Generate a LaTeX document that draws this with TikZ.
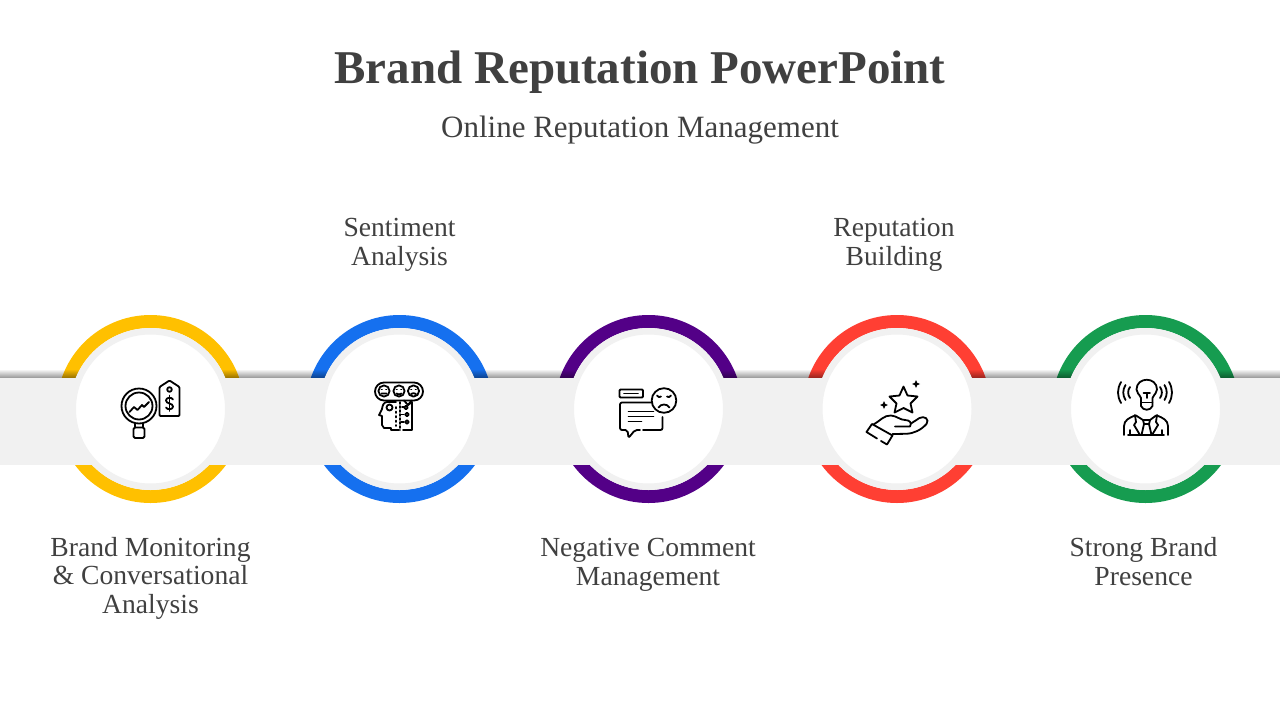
\documentclass[tikz,border=0pt]{standalone}
\usepackage{fontspec}
\setmainfont{Liberation Serif}
\usetikzlibrary{fadings}
\definecolor{txtgray}{HTML}{404040}
\definecolor{bandgray}{HTML}{F1F1F1}
\definecolor{brandyellow}{HTML}{FFC000}
\definecolor{brandblue}{HTML}{1570EF}
\definecolor{brandpurple}{HTML}{530087}
\definecolor{brandred}{HTML}{FF3F33}
\definecolor{brandgreen}{HTML}{169C50}
\tikzset{
  ring/.style={circle, draw=#1, line width=13pt, minimum size=175pt, inner sep=0pt, outer sep=0pt},
  disc/.style={circle, fill=white, draw=bandgray, line width=6.5pt, minimum size=155.5pt, inner sep=0pt, outer sep=0pt},
  label/.style={text=txtgray, align=center, anchor=base, font=\fontsize{27.6}{28.5}\selectfont},
  icon/.style={draw=black, line width=1.8pt, line cap=round, line join=round}
}
\begin{document}
\begin{tikzpicture}[x=1pt,y=-1pt]
\useasboundingbox (0,0) rectangle (1280,720);

\node[text=txtgray, anchor=base, font=\fontsize{47}{50}\bfseries\selectfont] (title) at (640,83) {Brand Reputation PowerPoint};
\node[label, font=\fontsize{31}{32}\selectfont] (subtitle) at (640,137) {Online Reputation Management};

\node[ring=brandyellow] (ringa) at (150.5,409) {};
\node[ring=brandblue] (ringb) at (399.5,409) {};
\node[ring=brandpurple] (ringc) at (648.5,409) {};
\node[ring=brandred] (ringd) at (897,409) {};
\node[ring=brandgreen] (ringe) at (1145.5,409) {};

\node[fill=bandgray, minimum width=1280pt, minimum height=87pt, inner sep=0pt, outer sep=0pt] (band) at (640,421.5) {};
\fill[black, opacity=.42, path fading=north] (-10,369) rectangle (1290,378);

\node[disc] (disca) at (150.5,409) {};
\node[disc] (discb) at (399.5,409) {};
\node[disc] (discc) at (648.5,409) {};
\node[disc] (discd) at (897,409) {};
\node[disc] (disce) at (1145.5,409) {};

\node[label] (laba) at (150.5,613) {Brand Monitoring\\\& Conversational\\Analysis};
\node[label] (labb) at (399.5,265) {Sentiment\\Analysis};
\node[label] (labc) at (648,585) {Negative Comment\\Management};
\node[label] (labd) at (894,265) {Reputation\\Building};
\node[label] (labe) at (1143.5,585) {Strong Brand\\Presence};

\begin{scope}[icon]
\draw (139,406) circle (17.5);
\draw (139,406) circle (13.5);
\draw (129.5,412) -- (134,407) -- (137.5,410) -- (142,405) -- (144,407) -- (149,402);
\draw (135,423.5) -- (135,427.5) (143,423.5) -- (143,427.5);
\draw[rounded corners=1.5pt] (133.5,427.5) rectangle (144.5,438);
\draw[rounded corners=1pt] (159.5,387) -- (169.5,380.5) -- (179.5,387) -- (179.5,416) -- (159.5,416) -- cycle;
\draw (169.5,389.5) circle (2.3);
\draw (173,399.5) .. controls (172,397) and (166,397) .. (166,400.5) .. controls (166,404) and (173,403) .. (173,406.5) .. controls (173,410) and (167,410) .. (166,407.5);
\draw (169.5,395.5) -- (169.5,411);

\draw[rounded corners=9pt] (375,382.5) rectangle (423,400.5);
\draw (384,391) circle (5.6) (399,391) circle (5.6) (413.5,391) circle (5.6);
\draw (381.5,389.5) -- (382,389.5) (386,389.5) -- (386.5,389.5) (396.5,389.5) -- (397,389.5) (401,389.5) -- (401.5,389.5) (411,389.5) -- (411.5,389.5) (415.5,389.5) -- (416,389.5);
\draw (381.5,393.5) -- (386.5,393.5) (396.5,393.5) .. controls (398,394.8) and (400,394.8) .. (401.5,393.5) (411,394) .. controls (412.5,392.8) and (414.5,392.8) .. (416,394);
\draw (404,400.5) -- (408,405) -- (411.5,400.5);
\draw (396,402) -- (387,402) .. controls (384,402) and (382.5,405) .. (382,409) -- (379,415) -- (382,416) -- (382,425) -- (384,428) -- (391,428) -- (391,430) -- (399,430);
\draw[dash pattern=on 1.5pt off 3pt] (396,407) -- (396,426);
\draw[dash pattern=on 2pt off 2pt] (400,402) -- (400,430);
\draw (408,405) -- (412,402) -- (412,430) -- (403,430);
\draw (389.5,407.5) circle (3);
\draw (402,407) -- (404.5,407) (401,414.5) -- (404,414.5) (401,422) -- (404,422);
\draw (406,407.5) circle (1.8) (407,414.5) circle (1.8) (407,422) circle (1.8);

\draw[rounded corners=1pt] (619.5,389.5) rectangle (643,397.5);
\draw (624,393.5) -- (638,393.5);
\draw (664,400.5) circle (12.3);
\draw (657,395.5) .. controls (658,397.5) and (660,397.5) .. (661,396.5) (671,395.5) .. controls (670,397.5) and (668,397.5) .. (667,396.5);
\draw (658.5,407.5) .. controls (661,403.5) and (667,403.5) .. (669.5,407.5);
\draw[rounded corners=2pt] (651.5,402.5) -- (620,402.5) -- (620,430) -- (627.5,430) -- (628.5,438) -- (635,430) -- (640,430);
\draw[rounded corners=2pt] (643,430) -- (662.5,430) -- (662.5,417);
\draw (628.5,411.5) -- (653.5,411.5) (628.5,416.5) -- (653.5,416.5) (628.5,421.5) -- (641.5,421.5);

\draw (903.5,386.5) -- (907.5,395.5) -- (917.5,396.5) -- (910.5,403.5) -- (912.5,412.5) -- (903.5,408) -- (894.5,412.5) -- (896.5,403.5) -- (889.5,396.5) -- (899.5,395.5) -- cycle;
\fill (916,380) -- (917.2,382.8) -- (920,384) -- (917.2,385.2) -- (916,388) -- (914.8,385.2) -- (912,384) -- (914.8,382.8) -- cycle;
\fill (884,401) -- (885.2,403.8) -- (888,405) -- (885.2,406.2) -- (884,409) -- (882.8,406.2) -- (880,405) -- (882.8,403.8) -- cycle;
\draw (872,424) -- (866.5,432) -- (877,438.5) (881,441) -- (887,444.5) -- (892.5,435.5) -- (872,424);
\draw (873.5,424.5) .. controls (880,421) and (884,415) .. (891,415.5) .. controls (897,416) and (900,420) .. (905,420) .. controls (910,420) and (912,423) .. (910,426.5) -- (895,426.5);
\draw (911,423.5) -- (919.5,418) .. controls (924,415.5) and (930,419) .. (926.5,424) .. controls (921,430) and (914,433.5) .. (906,433.8) -- (892.5,434);

\draw (1141,398) .. controls (1139,393.5) and (1136.5,393) .. (1136.5,389.5) .. controls (1136.5,376.5) and (1157,376.5) .. (1157,389.5) .. controls (1157,393) and (1154.5,393.5) .. (1152.5,398) -- (1152.5,406) .. controls (1150.5,411) and (1143,411) .. (1141,406) -- cycle;
\draw (1141,402.5) -- (1152.5,402.5) (1146.7,393) -- (1146.7,398) (1143.5,393) -- (1150,393);
\draw (1130,387) .. controls (1127.5,390.5) and (1127.5,394.5) .. (1130,398);
\draw (1125.5,385) .. controls (1122.5,390) and (1122.5,395) .. (1125.5,400);
\draw (1121,382) .. controls (1117,389) and (1117,396) .. (1121,403);
\draw (1160,387) .. controls (1162.5,390.5) and (1162.5,394.5) .. (1160,398);
\draw (1164.5,385) .. controls (1167.5,390) and (1167.5,395) .. (1164.5,400);
\draw (1169,382) .. controls (1173,389) and (1173,396) .. (1169,403);
\draw (1124,435) -- (1124,426) .. controls (1124,420) and (1130,417.5) .. (1135,415.5) (1168,435) -- (1168,426) .. controls (1168,420) and (1162,417.5) .. (1157,415.5) (1128,435) -- (1164,435);
\draw (1135,415) -- (1136,422) -- (1134,425) -- (1137,430) -- (1140,435) (1157,415) -- (1156,422) -- (1158,425) -- (1155,430) -- (1152,435);
\draw (1136,415.5) -- (1143,420) -- (1150,420) -- (1156,415.5);
\draw (1143,420) -- (1144,424) -- (1141.5,435) (1150,420) -- (1149,424) -- (1151.5,435) (1144,424) -- (1149,424);
\draw (1130,430) -- (1130,435) (1162,430) -- (1162,435);
\end{scope}
\end{tikzpicture}
\end{document}
